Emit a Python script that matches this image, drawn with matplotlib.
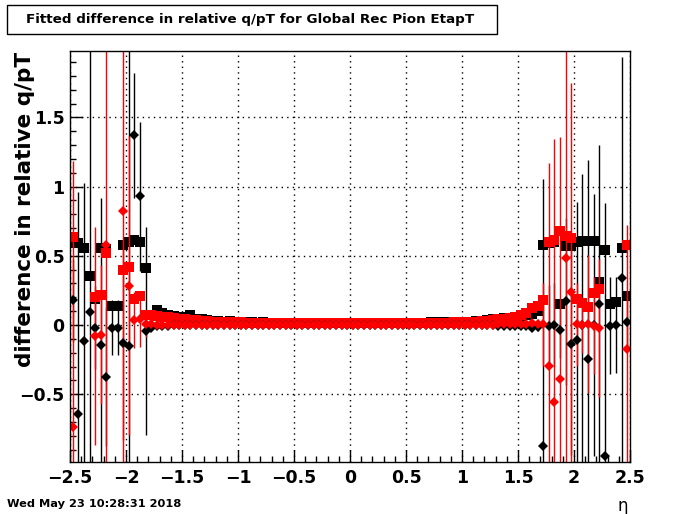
import numpy as np
import matplotlib
matplotlib.use("Agg")
import matplotlib.pyplot as plt
from matplotlib.patches import Rectangle
from matplotlib.ticker import MultipleLocator, FuncFormatter

nan = np.nan

# 100 eta bins from -2.5 to 2.5
n_bins = 100
eta_lo, eta_hi = -2.5, 2.5
eta = eta_lo + (np.arange(n_bins) + 0.5) * (eta_hi - eta_lo) / n_bins

# black squares
black_sq = [
    0.59, 0.59, 0.553, 0.354, 0.185, 0.56, 0.55, 0.137, 0.137, 0.578,
    0.60, 0.617, 0.60, 0.41, 0.07, 0.108, 0.09, 0.075, 0.065, 0.06,
    0.055, 0.07, 0.045, 0.04, 0.035, 0.03, 0.03, 0.025, 0.03, 0.022,
    0.02, 0.022, 0.02, 0.018, 0.02, 0.018, 0.017, 0.018, 0.016, 0.017,
    0.016, 0.015, 0.016, 0.015, 0.015, 0.014, 0.015, 0.014, 0.015, 0.014,
    0.014, 0.015, 0.014, 0.015, 0.015, 0.016, 0.015, 0.016, 0.017, 0.016,
    0.017, 0.018, 0.017, 0.018, 0.02, 0.019, 0.02, 0.022, 0.021, 0.024,
    0.022, 0.025, 0.03, 0.03, 0.035, 0.04, 0.045, 0.05, 0.05, 0.055,
    0.06, 0.07, 0.08, 0.10, 0.578, 0.59, 0.60, 0.152, 0.57, 0.57,
    0.60, 0.605, 0.61, 0.61, 0.313, 0.54, 0.155, 0.168, 0.56, 0.21,
]

# black diamonds and their errors
black_dm = [
    0.18, -0.64, -0.116, 0.096, -0.02, -0.144, -0.373, -0.02, -0.02, -0.13,
    -0.152, 1.37, 0.93, -0.043, -0.02, -0.01, -0.005, -0.004, -0.003, -0.003,
    -0.002, -0.002, -0.002, -0.001, -0.001, -0.001, 0.0, -0.001, 0.0, 0.0,
    0.0, 0.0, 0.0, 0.0, 0.0, 0.0, 0.0, 0.0, 0.0, 0.0,
    0.0, 0.0, 0.0, 0.0, 0.0, 0.0, 0.0, 0.0, 0.0, 0.0,
    0.0, 0.0, 0.0, 0.0, 0.0, 0.0, 0.0, 0.0, 0.0, 0.0,
    0.0, 0.0, 0.0, 0.0, 0.0, 0.0, 0.0, 0.0, 0.0, -0.001,
    -0.001, -0.001, -0.002, -0.002, -0.003, -0.003, -0.004, -0.005, -0.006, -0.008,
    -0.01, -0.01, -0.02, -0.015, -0.874, -0.01, 0.0, -0.036, 0.17, -0.137,
    -0.108, 0.0, -0.247, 0.0, 0.15, -0.95, -0.005, 0.0, 0.34, 0.025,
]
black_dm_err = [
    0.3, 1.6, 1.14, 2.0, 0.3, 1.06, 0.5, 0.2, 0.2, 0.7,
    2.2, 0.45, 0.54, 0.75, 0.02, 0.015, 0.01, 0.01, 0.008, 0.008,
    0.007, 0.007, 0.006, 0.006, 0.005, 0.005, 0.005, 0.005, 0.004, 0.004,
    0.004, 0.004, 0.004, 0.004, 0.004, 0.004, 0.004, 0.004, 0.004, 0.004,
    0.004, 0.004, 0.004, 0.004, 0.004, 0.004, 0.004, 0.004, 0.004, 0.004,
    0.004, 0.004, 0.004, 0.004, 0.004, 0.004, 0.004, 0.004, 0.004, 0.004,
    0.004, 0.004, 0.004, 0.004, 0.004, 0.004, 0.004, 0.004, 0.004, 0.004,
    0.004, 0.005, 0.005, 0.005, 0.005, 0.006, 0.006, 0.007, 0.007, 0.008,
    0.01, 0.015, 0.02, 0.03, 1.93, 0.3, 0.3, 0.2, 0.6, 0.8,
    1.0, 1.09, 1.44, 0.95, 1.15, 1.83, 0.35, 0.35, 1.6, 0.2,
]

# red squares
red_sq = [
    0.633, nan, nan, nan, 0.20, 0.22, 0.52, nan, nan, 0.397,
    0.42, 0.19, 0.21, 0.07, 0.075, 0.065, 0.06, 0.055, 0.05, 0.045,
    0.04, 0.035, 0.035, 0.03, 0.03, 0.025, 0.025, 0.022, 0.02, 0.02,
    0.019, 0.018, 0.018, 0.017, 0.017, 0.016, 0.016, 0.015, 0.015, 0.015,
    0.014, 0.014, 0.014, 0.014, 0.014, 0.014, 0.014, 0.014, 0.014, 0.014,
    0.014, 0.014, 0.014, 0.014, 0.014, 0.014, 0.014, 0.014, 0.014, 0.015,
    0.015, 0.015, 0.016, 0.016, 0.017, 0.017, 0.018, 0.018, 0.019, 0.02,
    0.022, 0.025, 0.025, 0.03, 0.03, 0.035, 0.04, 0.045, 0.05, 0.06,
    0.07, 0.085, 0.12, 0.14, 0.18, 0.60, 0.615, 0.68, 0.64, 0.63,
    0.19, 0.16, 0.13, 0.23, 0.26, nan, nan, nan, nan, 0.58,
]

# red diamonds and their errors
red_dm = [
    -0.734, nan, nan, nan, -0.08, -0.07, 0.58, nan, nan, 0.823,
    0.284, 0.036, 0.04, 0.01, 0.005, 0.003, 0.002, 0.002, 0.001, 0.001,
    0.0, 0.0, 0.0, 0.0, 0.0, 0.0, 0.0, 0.0, 0.0, 0.0,
    0.0, 0.0, 0.0, 0.0, 0.0, 0.0, 0.0, 0.0, 0.0, 0.0,
    0.0, 0.0, 0.0, 0.0, 0.0, 0.0, 0.0, 0.0, 0.0, 0.0,
    0.0, 0.0, 0.0, 0.0, 0.0, 0.0, 0.0, 0.0, 0.0, 0.0,
    0.0, 0.0, 0.0, 0.0, 0.0, 0.0, 0.0, 0.0, 0.0, 0.0,
    0.001, 0.001, 0.001, 0.002, 0.002, 0.003, 0.004, 0.005, 0.006, 0.008,
    0.01, 0.01, 0.015, 0.01, 0.007, -0.296, -0.556, -0.39, 0.483, 0.24,
    0.005, 0.0, 0.007, -0.005, -0.02, nan, nan, nan, nan, -0.174,
]
red_dm_err = [
    1.92, nan, nan, nan, 0.79, 0.5, 3.0, nan, nan, 3.0,
    1.08, 0.2, 0.2, 0.1, 0.02, 0.015, 0.01, 0.01, 0.008, 0.008,
    0.007, 0.007, 0.006, 0.006, 0.005, 0.005, 0.005, 0.005, 0.004, 0.004,
    0.004, 0.004, 0.004, 0.004, 0.004, 0.004, 0.004, 0.004, 0.004, 0.004,
    0.004, 0.004, 0.004, 0.004, 0.004, 0.004, 0.004, 0.004, 0.004, 0.004,
    0.004, 0.004, 0.004, 0.004, 0.004, 0.004, 0.004, 0.004, 0.004, 0.004,
    0.004, 0.004, 0.004, 0.004, 0.004, 0.004, 0.004, 0.004, 0.004, 0.004,
    0.004, 0.005, 0.005, 0.005, 0.005, 0.006, 0.006, 0.007, 0.007, 0.008,
    0.01, 0.015, 0.02, 0.03, 0.3, 1.47, 1.9, 1.75, 3.0, 1.51,
    0.3, 0.2, 0.5, 0.35, 0.5, nan, nan, nan, nan, 0.9,
]

title = "Fitted difference in relative q/pT for Global Rec Pion EtapT"
ylabel = "difference in relative q/pT"
xlabel = "\u03b7"
stamp = "Wed May 23 10:28:31 2018"

W, H = 700, 514
fig = plt.figure(figsize=(W / 100, H / 100), dpi=100)
ax = fig.add_axes([70 / W, 1 - 462 / H, 560 / W, 411 / H])

ax.plot(eta, black_sq, "s", color="black", ms=7, mew=0)
ax.errorbar(eta, black_dm, yerr=black_dm_err, fmt="D", color="black",
            ms=5.5, mew=0, elinewidth=1, capsize=0)
ax.plot(eta, red_sq, "s", color="red", ms=7, mew=0)
ax.errorbar(eta, red_dm, yerr=red_dm_err, fmt="D", color="red",
            ms=5.5, mew=0, elinewidth=1, capsize=0)

ax.set_xlim(-2.5, 2.5)
ax.set_ylim(-0.99, 1.98)
ax.xaxis.set_major_locator(MultipleLocator(0.5))
ax.xaxis.set_minor_locator(MultipleLocator(0.1))
ax.yaxis.set_major_locator(MultipleLocator(0.5))
ax.yaxis.set_minor_locator(MultipleLocator(0.1))
fmt = FuncFormatter(lambda v, p: f"{v:g}".replace("-", "\u2212"))
ax.xaxis.set_major_formatter(fmt)
ax.yaxis.set_major_formatter(fmt)
ax.grid(True, which="major", color="black", linestyle=(0, (1, 3)), linewidth=1)
ax.set_axisbelow(True)

ax.tick_params(which="both", direction="in", top=False, right=False, width=1)
ax.tick_params(which="major", length=9)
ax.tick_params(which="minor", length=4.5)
ax.tick_params(axis="x", pad=5)
ax.tick_params(axis="y", pad=4)
for lab in ax.get_xticklabels() + ax.get_yticklabels():
    lab.set_fontsize(12.5)
    lab.set_fontweight("bold")
for sp in ax.spines.values():
    sp.set_linewidth(1)

# title box
fig.patches.append(Rectangle((7 / W, 1 - 34 / H), 490 / W, 29 / H,
                             transform=fig.transFigure, fill=False,
                             edgecolor="black", linewidth=1))
fig.text(250 / W, 1 - 19.5 / H, title, ha="center", va="center",
         fontsize=9.7, fontweight="bold")

fig.text(25 / W, 1 - 52 / H, ylabel, rotation=90, ha="center", va="top",
         fontsize=15.5, fontweight="bold")
fig.text(623 / W, 1 - 506 / H, xlabel, ha="center", va="center", fontsize=12)
fig.text(7 / W, 1 - 504 / H, stamp, ha="left", va="center",
         fontsize=8.2, fontweight="bold")

fig.savefig("out.png", dpi=100)
